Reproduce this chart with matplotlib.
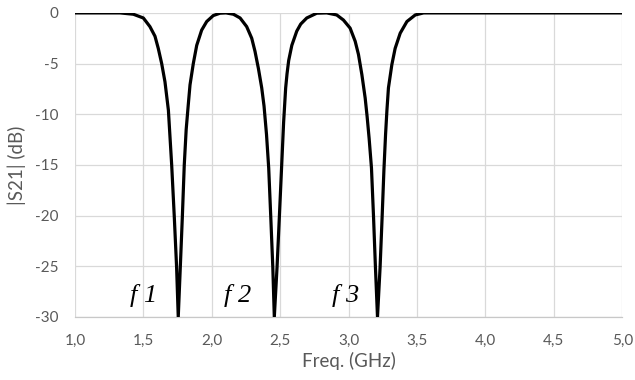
import matplotlib
matplotlib.use("Agg")
import matplotlib.pyplot as plt

# S21 magnitude
freq = [1.00, 1.25, 1.33, 1.427, 1.50, 1.548, 1.585, 1.609, 1.634, 1.658, 1.683, 1.707,
        1.726, 1.743, 1.755, 1.770, 1.785, 1.799, 1.813, 1.828, 1.841, 1.865, 1.890,
        1.926, 1.963, 2.011, 2.06, 2.104, 2.158, 2.207, 2.255, 2.292, 2.316, 2.341,
        2.365, 2.382, 2.400, 2.416, 2.431, 2.446, 2.457, 2.477, 2.494, 2.511, 2.525,
        2.540, 2.550, 2.562, 2.585, 2.621, 2.650, 2.694, 2.767, 2.84, 2.913, 2.962, 3.011,
        3.048, 3.072, 3.097, 3.121, 3.135, 3.150, 3.167, 3.182, 3.196, 3.211, 3.23,
        3.245, 3.258, 3.270, 3.280, 3.291, 3.316, 3.340, 3.377, 3.426, 3.487, 3.548,
        3.62, 5.00]
s21 = [0, 0, 0, -0.13, -0.5, -1.35, -2.3, -3.5, -5.0, -6.8, -9.6, -15.0,
       -20.1, -25.1, -30, -25.1, -20.1, -15.0, -11.5, -9.1, -7.1, -5.0, -3.2,
       -1.7, -0.85, -0.26, -0.03, 0, -0.13, -0.5, -1.35, -2.5, -3.8, -5.5,
       -7.4, -9.2, -12.0, -15.3, -20.1, -25.1, -30, -25.1, -20.1, -15.0, -10.8,
       -7.4, -6.0, -4.7, -3.2, -1.8, -1.1, -0.5, -0.03, 0, -0.2, -0.7, -1.5,
       -2.8, -4.1, -6.1, -8.4, -10.2, -12.4, -15.3, -20.1, -25.1, -30, -25.1,
       -20.1, -15.5, -12.0, -9.6, -7.4, -5.1, -3.5, -2.0, -0.85, -0.2, 0,
       0, 0]

xticks = [1.0, 1.5, 2.0, 2.5, 3.0, 3.5, 4.0, 4.5, 5.0]
yticks = [0, -5, -10, -15, -20, -25, -30]
notch_labels = ["f 1", "f 2", "f 3"]
label_x = [1.50, 2.19, 2.98]

grey = "#595959"

fig = plt.figure(figsize=(6.35, 3.8), dpi=100)
ax = fig.add_axes([0.118, 0.166, 0.862, 0.8])

ax.plot(freq, s21, color="black", lw=2.3, solid_joinstyle="round", zorder=3)

ax.set_xlim(1.0, 5.0)
ax.set_ylim(-30, 0)
ax.set_xticks(xticks)
ax.set_yticks(yticks)
ax.set_xticklabels([f"{t:.1f}".replace(".", ",") for t in xticks])
ax.set_yticklabels([str(t) for t in yticks])
ax.grid(True, color="#d9d9d9", lw=0.9)
ax.set_axisbelow(True)
for s in ["top", "right", "left"]:
    ax.spines[s].set_visible(False)
ax.spines["bottom"].set_color("#c8c8c8")
ax.spines["bottom"].set_linewidth(0.9)
ax.tick_params(length=0, pad=12, labelsize=11, labelcolor=grey)
for lab in ax.get_xticklabels() + ax.get_yticklabels():
    lab.set_family("Lato")

ax.set_xlabel("Freq. (GHz)", fontsize=13.5, color=grey, family="Lato", labelpad=3)
ax.set_ylabel("|S21| (dB)", fontsize=13.5, color=grey, family="Lato", labelpad=6)

for txt, x in zip(notch_labels, label_x):
    ax.text(x, -27.9, txt, fontsize=19, style="italic", family="Liberation Serif",
            ha="center", va="center", color="black")

fig.savefig("out.png", dpi=100)
